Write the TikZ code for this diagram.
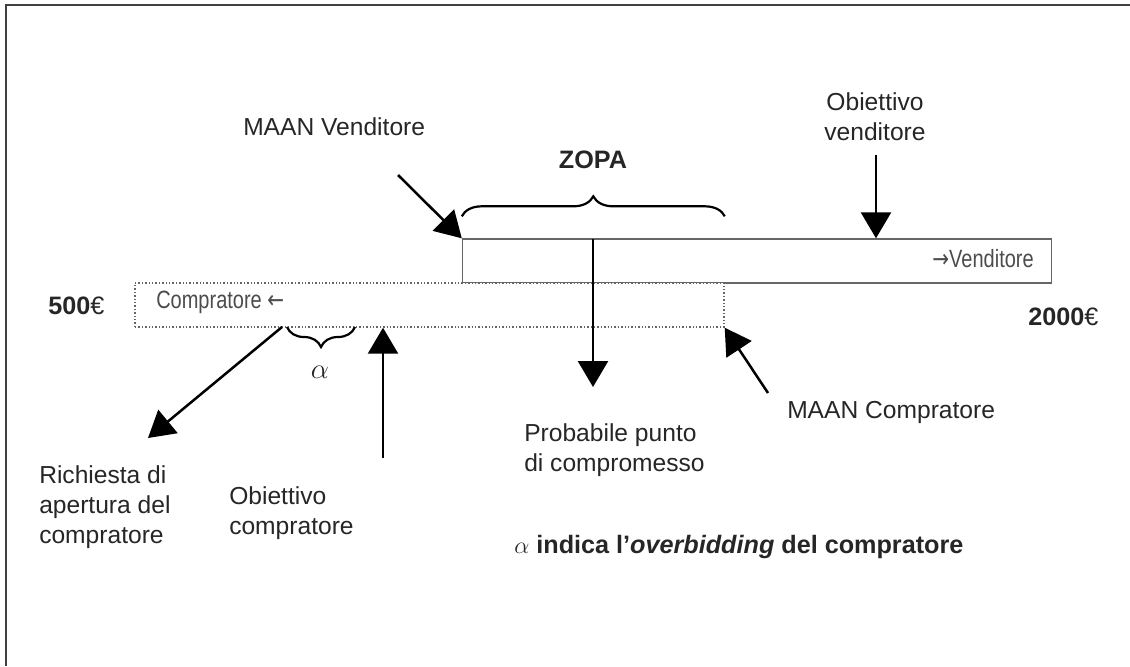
\documentclass[tikz,border=0pt]{standalone}
\usepackage{fontspec}
\setmainfont{Liberation Sans}
\newfontfamily\narrowfont[FakeStretch=0.8]{Liberation Sans}
\newfontfamily\arrowfont[FakeStretch=0.8]{DejaVu Sans}
\usepackage{tikz}
\usetikzlibrary{arrows.meta,positioning,decorations.pathreplacing,calc}

\begin{document}
\begin{tikzpicture}[x=0.5pt, y=-0.5pt, ->, >={Triangle[length=13pt,width=15pt]}, line width=1.25pt,
  lab/.style={inner sep=0pt, align=left, text=black!85, font=\fontsize{12.3}{15}\selectfont},
  big/.style={lab, font=\bfseries\fontsize{12.6}{15}\selectfont},
  inbox/.style={inner sep=0pt, text=black!70, font=\narrowfont\fontsize{12.5}{15}\selectfont},
  bar/.style={inner sep=0pt, minimum width=294.5pt, minimum height=22pt, line width=0.7pt, draw=black!60},
  brace/.style={-, decorate, decoration={brace, amplitude=10pt}, line width=1.1pt}]

\useasboundingbox (0,0) rectangle (1130,666);
\draw[-, line width=1pt, black!75] (1130,5) -- (6,5) -- (6,666);

\node[bar] (seller)                      at (757,261)   {};
\node[bar, densely dotted, fill=white] (buyer) at (429.5,305) {};

\node[inbox, anchor=east] (vend)  at (1035,259) {{\arrowfont →}Venditore};
\node[inbox, anchor=west] (comp)  at (155,302)  {Compratore {\arrowfont ←}};

\node[big, anchor=west]   (low)   at (47,306)   {500\textmd{€}};
\node[big, anchor=west]   (high)  at (1027,317) {2000\textmd{€}};
\node[big]                (zopa)  at (593,160)  {ZOPA};

\node[lab, anchor=west]   (mv)    at (242,127)  {MAAN Venditore};
\node[lab, align=center]  (ov)    at (875,117)  {Obiettivo\\venditore};
\node[lab, anchor=west]   (mc)    at (786,412)  {MAAN Compratore};
\node[lab, anchor=west]   (pp)    at (523,450)  {Probabile punto\\di compromesso};
\node[lab, anchor=west]   (oc)    at (228,513)  {Obiettivo\\compratore};
\node[lab, anchor=west]   (rc)    at (38,507)   {Richiesta di\\apertura del\\compratore};
\node[big, anchor=west]   (note)  at (513,547)  {$\alpha$ indica l’\textit{overbidding} del compratore};
\node[lab, font=\fontsize{14}{15}\selectfont] (alpha) at (320,372) {$\alpha$};

\coordinate (mvT) at (398,175);
\coordinate (ovT) at (876,155);
\coordinate (cpT) at (593,239);
\coordinate (cpH) at (593,387);
\coordinate (mcT) at (768,393);
\coordinate (rcT) at (282,327);
\coordinate (rcH) at (148,438);
\coordinate (ocT) at (383,458);

\path (mvT) edge (seller.north west);
\path (ovT) edge (ovT |- seller.north);
\path (cpT) edge (cpH);
\path (mcT) edge (buyer.south east);
\path (rcT) edge (rcH);
\path (ocT) edge (ocT |- buyer.south);

\draw[brace] (seller.north west) ++(0,-22) -- ++(263,0);
\draw[brace] (355,327) -- (287,327);

\end{tikzpicture}
\end{document}
